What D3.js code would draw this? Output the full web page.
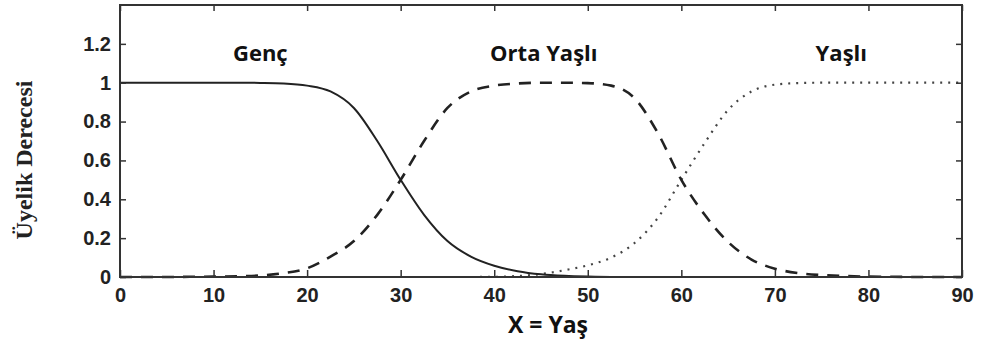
<html>
<head>
<script src="https://cdn.jsdelivr.net/npm/d3@7"></script>
<style>
  body { margin:0; background:#fff; }
  svg { display:block; }
  .tick text { font-family:"Liberation Sans", Arial, sans-serif; font-weight:bold; font-size:20px; fill:#222; }
</style>
</head>
<body>
<svg id="svg" width="982" height="349"></svg>
<script>
// age values (x) and membership degrees
const xs    = [0, 2.5, 5, 7.5, 10, 12.5, 15, 17.5, 20, 22.5, 25, 27.5, 30, 32.5, 35, 37.5, 40, 42.5, 45, 47.5,
               50, 52.5, 55, 57.5, 60, 62.5, 65, 67.5, 70, 72.5, 75, 77.5, 80, 82.5, 85, 87.5, 90];
const genc  = [1, 1, 1, 1, 1, 1, 0.999, 0.996, 0.985, 0.955, 0.87, 0.70, 0.5, 0.32, 0.185, 0.105, 0.058, 0.03, 0.014, 0.006,
               0.002, 0, 0, 0, 0, 0, 0, 0, 0, 0, 0, 0, 0, 0, 0, 0, 0];
const orta  = [0, 0, 0, 0.001, 0.002, 0.004, 0.008, 0.02, 0.045, 0.105, 0.185, 0.32, 0.5, 0.70, 0.87, 0.955, 0.985, 0.996, 1, 1,
               0.998, 0.985, 0.92, 0.74, 0.5, 0.32, 0.18, 0.09, 0.043, 0.02, 0.01, 0.005, 0.002, 0.001, 0, 0, 0];
const yasli = [0, 0, 0, 0, 0, 0, 0, 0, 0, 0, 0, 0, 0, 0, 0, 0, 0.001, 0.005, 0.015, 0.035,
               0.06, 0.10, 0.175, 0.305, 0.5, 0.69, 0.86, 0.955, 0.99, 0.998, 1, 1, 1, 1, 1, 1, 1];
const labels = ["Genç", "Orta Yaşlı", "Yaşlı"];
const labelX = [15, 45.3, 77.1];
const labelY = [1.11, 1.11, 1.11];
const xTicks = [0, 10, 20, 30, 40, 50, 60, 70, 80, 90];
const yTicks = [0, 0.2, 0.4, 0.6, 0.8, 1, 1.2];

const plot = { left: 120, right: 962, top: 5, bottom: 277 };

let x = d3.scaleLinear().domain([0, 90]).range([plot.left, plot.right]);
let y = d3.scaleLinear().domain([0, 1.4]).range([plot.bottom, plot.top]);

let svg = d3.select("#svg");

let line = d3.line()
  .x((d, i) => x(xs[i]))
  .y(d => y(d))
  .curve(d3.curveMonotoneX);

// curves
svg.append("path").datum(yasli)
  .attr("d", line).attr("fill", "none")
  .attr("stroke", "#444").attr("stroke-width", 2.2)
  .attr("stroke-dasharray", "2,6");
svg.append("path").datum(orta)
  .attr("d", line).attr("fill", "none")
  .attr("stroke", "#222").attr("stroke-width", 2.6)
  .attr("stroke-dasharray", "12,9");
svg.append("path").datum(genc)
  .attr("d", line).attr("fill", "none")
  .attr("stroke", "#222").attr("stroke-width", 2);

// axes with inward ticks
let fmt = d => d3.format("")(d);
svg.append("g").attr("transform", `translate(0,${plot.bottom})`)
  .call(d3.axisBottom(x).tickValues(xTicks).tickSizeInner(-7).tickSizeOuter(0).tickPadding(11).tickFormat(fmt))
  .call(g => g.select(".domain").remove());
svg.append("g").attr("transform", `translate(0,${plot.top})`)
  .call(d3.axisTop(x).tickValues(xTicks).tickSizeInner(-6).tickSizeOuter(0).tickFormat(""))
  .call(g => g.select(".domain").remove());
svg.append("g").attr("transform", `translate(${plot.left},0)`)
  .call(d3.axisLeft(y).tickValues(yTicks).tickSizeInner(-6).tickSizeOuter(0).tickPadding(9).tickFormat(fmt))
  .call(g => g.select(".domain").remove());
svg.append("g").attr("transform", `translate(${plot.right},0)`)
  .call(d3.axisRight(y).tickValues(yTicks).tickSizeInner(-6).tickSizeOuter(0).tickFormat(""))
  .call(g => g.select(".domain").remove());
svg.selectAll(".tick line").attr("stroke", "#333").attr("stroke-width", 1.5);

// frame
svg.append("rect")
  .attr("x", plot.left).attr("y", plot.top)
  .attr("width", plot.right - plot.left).attr("height", plot.bottom - plot.top)
  .attr("fill", "none").attr("stroke", "#333").attr("stroke-width", 2);

// curve names
svg.selectAll(".lbl").data(labels).enter().append("text")
  .attr("class", "lbl")
  .attr("x", (d, i) => x(labelX[i]))
  .attr("y", (d, i) => y(labelY[i]))
  .attr("text-anchor", "middle")
  .attr("font-family", "'Open Sans', sans-serif")
  .attr("font-weight", "bold")
  .attr("font-size", 22)
  .attr("fill", "#111")
  .text(d => d);

// axis titles
svg.append("text")
  .attr("x", 548).attr("y", 333)
  .attr("text-anchor", "middle")
  .attr("font-family", "'Open Sans', sans-serif")
  .attr("font-weight", "bold").attr("font-size", 23)
  .attr("fill", "#111")
  .text("X = Yaş");
svg.append("text")
  .attr("transform", "translate(32,160) rotate(-90)")
  .attr("text-anchor", "middle")
  .attr("font-family", "'Liberation Serif', 'Times New Roman', serif")
  .attr("font-weight", "bold").attr("font-size", 24)
  .attr("fill", "#222")
  .text("Üyelik Derecesi");
</script>
</body>
</html>
